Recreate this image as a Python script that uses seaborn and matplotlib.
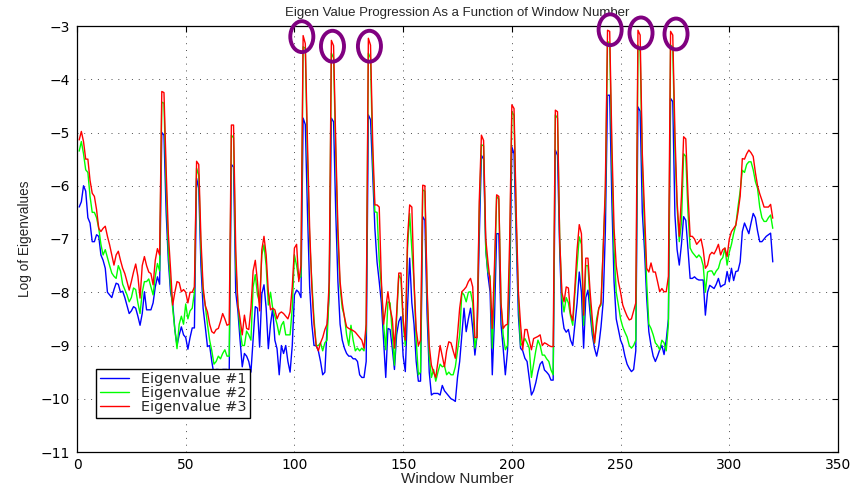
import numpy as np
import pandas as pd
import matplotlib
matplotlib.use("Agg")
import matplotlib.pyplot as plt
from matplotlib.patches import Ellipse
import seaborn as sns

# Log eigenvalues per analysis window (windows 1..320)
eig1 = [
    -6.4, -6.3, -6.0, -6.1, -6.6, -6.7, -7.05, -7.05, -6.92, -6.95,
    -7.3, -7.4, -7.55, -8.0, -8.05, -8.1, -7.95, -7.83, -7.85, -8.0,
    -7.98, -8.1, -8.25, -8.4, -8.35, -8.27, -8.3, -8.45, -8.62, -8.4,
    -7.99, -8.33, -8.33, -8.33, -8.2, -7.9, -7.71, -7.85, -5.0, -5.05,
    -6.5, -7.4, -7.99, -8.2, -8.7, -9.0, -8.8, -8.65, -8.8, -8.85,
    -9.07, -8.85, -8.67, -8.67, -5.86, -6.05, -7.5, -8.3, -8.65, -9.02,
    -9.0, -9.3, -9.55, -9.45, -9.45, -9.5, -9.45, -9.45, -9.45, -9.5,
    -5.6, -5.65, -8.0, -8.35, -8.9, -9.4, -9.15, -9.2, -9.3, -9.5,
    -8.9, -8.27, -8.3, -9.03, -8.03, -7.86, -8.3, -9.06, -8.6, -8.3,
    -8.9, -9.06, -9.55, -9.0, -9.15, -9.0, -9.3, -9.5, -9.0, -8.05,
    -7.96, -8.0, -8.1, -4.73, -4.85, -6.5, -7.9, -8.6, -9.0, -9.0,
    -9.1, -9.3, -9.55, -9.5, -8.68, -8.0, -4.73, -4.8, -6.5, -7.8,
    -8.6, -8.9, -9.05, -9.15, -9.2, -9.2, -9.25, -9.25, -9.3, -9.55,
    -9.6, -9.6, -9.3, -4.67, -4.76, -5.8, -6.8, -7.43, -7.8, -8.2,
    -8.9, -9.6, -8.68, -8.7, -9.05, -9.45, -8.8, -8.55, -8.46, -9.2,
    -9.49, -8.3, -7.36, -8.2, -8.6, -9.3, -9.67, -9.67, -6.58, -6.65,
    -8.4, -9.5, -9.93, -9.9, -9.9, -9.9, -9.93, -9.75, -9.85, -9.9,
    -9.95, -10.0, -10.02, -10.05, -9.6, -9.3, -8.8, -8.3, -8.74, -8.5,
    -8.3, -8.68, -9.18, -8.8, -7.0, -5.43, -5.5, -7.2, -7.68, -8.0,
    -9.55, -8.5, -6.9, -6.9, -8.6, -9.05, -9.55, -9.1, -8.0, -5.27,
    -5.4, -7.0, -8.43, -9.05, -9.1, -9.24, -9.3, -9.62, -9.93, -9.85,
    -9.7, -9.5, -9.35, -9.3, -9.46, -9.5, -9.55, -9.65, -9.65, -5.33,
    -5.43, -7.2, -8.4, -8.68, -8.75, -8.7, -8.9, -9.0, -8.6, -8.2,
    -7.62, -8.0, -9.05, -8.1, -7.96, -8.4, -8.8, -9.05, -9.2, -9.0,
    -8.65, -8.18, -6.86, -4.3, -4.3, -6.3, -7.8, -8.5, -8.7, -8.9,
    -9.0, -9.2, -9.35, -9.43, -9.49, -9.45, -9.1, -4.52, -4.6, -6.5,
    -7.2, -8.1, -8.74, -9.0, -9.2, -9.3, -9.2, -9.08, -9.0, -9.17,
    -8.9, -8.5, -4.36, -4.42, -6.55, -7.2, -7.49, -7.1, -6.58, -6.65,
    -7.2, -7.74, -7.74, -7.71, -7.75, -7.77, -7.77, -7.77, -8.43, -8.0,
    -7.87, -7.9, -7.93, -7.85, -7.74, -7.9, -7.87, -7.85, -7.61, -7.8,
    -7.55, -7.78, -7.61, -7.6, -7.43, -6.86, -6.7, -6.8, -6.9, -6.7,
    -6.52, -6.6, -6.85, -7.05, -7.05, -7.0, -6.95, -6.92, -6.89, -7.43,
]

eig2 = [
    -5.35, -5.17, -5.4, -5.7, -5.75, -6.2, -6.5, -6.5, -6.6, -6.8,
    -7.1, -7.3, -7.2, -7.35, -7.5, -7.64, -7.7, -7.74, -7.5, -7.6,
    -7.85, -7.95, -8.05, -8.18, -8.1, -7.92, -7.95, -8.2, -8.4, -8.0,
    -7.8, -7.8, -7.75, -7.9, -8.05, -7.7, -7.46, -7.6, -4.43, -4.45,
    -6.0, -7.2, -7.86, -8.3, -8.7, -9.06, -8.6, -8.45, -8.6, -8.22,
    -8.5, -8.35, -8.3, -8.0, -5.67, -5.8, -7.2, -8.0, -8.25, -8.6,
    -8.9, -9.1, -9.35, -9.3, -9.2, -9.25, -9.15, -9.08, -9.2, -9.2,
    -5.05, -5.1, -7.5, -8.2, -8.7, -9.0, -9.0, -8.73, -8.8, -8.9,
    -7.9, -7.67, -8.05, -8.2, -7.3, -7.11, -7.5, -8.24, -8.0, -8.3,
    -8.45, -8.6, -8.8, -8.62, -8.55, -8.8, -8.8, -8.8, -8.3, -7.3,
    -7.5, -7.75, -7.7, -3.39, -3.42, -5.5, -7.0, -7.8, -8.5, -9.0,
    -9.0, -8.95, -9.1, -8.95, -8.9, -8.0, -3.51, -3.6, -5.4, -7.0,
    -7.9, -8.3, -8.45, -8.8, -9.0, -8.62, -8.9, -9.1, -9.05, -9.1,
    -9.05, -9.1, -8.7, -3.51, -3.6, -5.5, -6.49, -6.5, -7.4, -7.9,
    -8.6, -9.08, -8.18, -8.2, -8.8, -9.37, -8.5, -7.68, -7.75, -8.6,
    -9.0, -7.2, -6.52, -7.2, -7.81, -8.9, -9.55, -9.5, -6.08, -6.1,
    -8.0, -9.2, -9.6, -9.45, -9.67, -9.5, -9.35, -9.4, -9.38, -9.55,
    -9.5, -9.55, -9.55, -9.4, -9.1, -8.8, -8.0, -8.05, -8.18, -8.0,
    -7.99, -8.2, -9.05, -8.8, -6.5, -5.23, -5.25, -7.2, -7.62, -7.7,
    -9.05, -7.8, -6.2, -6.25, -8.2, -8.8, -9.08, -9.0, -7.4, -4.61,
    -4.68, -6.7, -8.1, -9.0, -8.95, -8.87, -8.95, -9.05, -9.6, -9.35,
    -9.1, -8.9, -9.0, -9.18, -9.18, -9.25, -9.3, -9.46, -9.55, -4.67,
    -4.73, -7.0, -8.1, -8.37, -8.1, -8.2, -8.45, -8.62, -8.0, -7.5,
    -6.96, -7.1, -8.62, -7.5, -7.5, -8.2, -8.7, -8.96, -8.5, -8.3,
    -8.24, -7.17, -6.2, -3.29, -3.32, -5.5, -7.2, -8.0, -8.24, -8.5,
    -8.65, -8.75, -8.84, -9.0, -9.05, -9.0, -8.9, -3.36, -3.48, -5.6,
    -6.8, -7.8, -8.6, -8.68, -8.8, -8.95, -9.0, -9.08, -8.9, -8.95,
    -9.1, -8.6, -3.36, -3.39, -5.3, -6.4, -7.05, -6.7, -5.4, -5.45,
    -6.5, -7.17, -7.25, -7.3, -7.35, -7.3, -7.35, -7.5, -8.0, -7.62,
    -7.6, -7.6, -7.68, -7.6, -7.55, -7.4, -7.35, -7.17, -7.49, -7.25,
    -7.1, -6.9, -6.74, -6.4, -6.1, -5.71, -5.75, -5.6, -5.55, -5.55,
    -5.7, -5.92, -6.05, -6.4, -6.6, -6.67, -6.67, -6.6, -6.55, -6.8,
]

eig3 = [
    -5.14, -4.98, -5.17, -5.5, -5.5, -5.9, -6.14, -6.2, -6.45, -6.8,
    -6.86, -6.8, -6.76, -6.95, -7.11, -7.3, -7.49, -7.3, -7.23, -7.4,
    -7.55, -7.65, -7.8, -7.96, -7.8, -7.62, -7.47, -7.7, -8.11, -7.5,
    -7.33, -7.5, -7.62, -7.65, -7.86, -7.4, -7.18, -7.3, -4.23, -4.25,
    -5.7, -6.9, -7.55, -8.24, -8.0, -7.8, -7.82, -7.99, -7.95, -8.0,
    -8.2, -8.0, -8.0, -7.9, -5.54, -5.6, -7.0, -7.9, -8.25, -8.37,
    -8.6, -8.74, -8.77, -8.7, -8.68, -8.55, -8.4, -8.5, -8.62, -8.6,
    -4.86, -4.86, -7.2, -8.24, -8.5, -8.8, -8.43, -8.68, -8.7, -8.3,
    -7.6, -7.4, -7.8, -8.35, -7.2, -6.95, -7.3, -8.0, -8.33, -8.3,
    -8.33, -8.5, -8.4, -8.37, -8.4, -8.45, -8.5, -8.37, -7.9, -7.17,
    -7.1, -7.8, -7.5, -3.18, -3.33, -5.2, -6.8, -7.9, -8.6, -9.0,
    -9.1, -8.95, -8.85, -8.7, -8.6, -7.8, -3.27, -3.37, -5.2, -6.8,
    -7.8, -8.2, -8.47, -8.65, -8.68, -8.7, -8.72, -8.75, -8.8, -8.85,
    -8.9, -9.05, -8.6, -3.23, -3.36, -5.2, -6.36, -6.36, -6.4, -7.8,
    -8.6, -8.3, -7.99, -8.3, -8.5, -9.05, -8.4, -7.64, -7.64, -8.5,
    -8.9, -7.0, -6.36, -6.4, -7.8, -8.7, -9.0, -8.9, -5.99, -6.0,
    -7.9, -9.0, -9.37, -9.5, -9.6, -9.3, -9.0, -9.2, -9.4, -9.1,
    -8.93, -8.95, -9.1, -9.24, -8.8, -8.3, -7.99, -7.95, -7.9, -7.8,
    -7.74, -7.9, -8.85, -8.85, -6.3, -5.05, -5.15, -7.0, -7.43, -7.8,
    -8.68, -7.5, -6.17, -6.2, -8.2, -8.68, -8.62, -8.6, -7.0, -4.48,
    -4.55, -6.5, -7.99, -8.6, -9.08, -8.7, -8.7, -8.9, -9.08, -8.87,
    -8.85, -8.83, -8.8, -9.0, -8.95, -8.97, -9.0, -9.02, -9.02, -4.58,
    -4.61, -7.0, -8.0, -8.18, -7.9, -7.92, -8.4, -8.53, -7.9, -7.2,
    -6.73, -6.9, -8.43, -7.36, -7.36, -8.0, -8.5, -8.95, -8.6, -8.3,
    -8.2, -7.2, -6.0, -3.08, -3.1, -5.2, -6.8, -7.5, -7.8, -8.0,
    -8.24, -8.35, -8.45, -8.52, -8.5, -8.35, -8.2, -3.08, -3.17, -5.4,
    -6.5, -7.55, -7.62, -7.45, -7.62, -7.62, -7.8, -7.99, -7.93, -7.99,
    -7.99, -7.7, -3.1, -3.17, -5.0, -6.3, -6.95, -6.2, -5.08, -5.12,
    -6.17, -6.95, -6.95, -7.0, -7.1, -7.05, -7.0, -7.2, -7.55, -7.49,
    -7.3, -7.25, -7.28, -7.2, -7.1, -7.3, -7.2, -7.17, -7.33, -7.0,
    -6.86, -6.8, -6.74, -6.5, -6.2, -5.49, -5.5, -5.4, -5.33, -5.38,
    -5.45, -5.75, -6.0, -6.15, -6.27, -6.4, -6.4, -6.4, -6.35, -6.61,
]

series_names = ["Eigenvalue #1", "Eigenvalue #2", "Eigenvalue #3"]
series_colors = ["#0000ff", "#00ff00", "#ff0000"]

# Highlighted peaks (window, log eigenvalue)
peak_windows = [103.4, 117.5, 134.5, 245.2, 259.4, 275.5]
peak_levels = [-3.2, -3.38, -3.38, -3.07, -3.13, -3.15]

x_ticks = [0, 50, 100, 150, 200, 250, 300, 350]
y_ticks = [-11, -10, -9, -8, -7, -6, -5, -4, -3]

windows = np.arange(1, len(eig1) + 1)
frames = []
for name, vals in zip(series_names, [eig1, eig2, eig3]):
    frames.append(pd.DataFrame({"Window": windows, "Value": vals, "Series": name}))
df = pd.concat(frames, ignore_index=True)

sns.set_style("white")
plt.rcParams["font.family"] = ["Liberation Sans", "DejaVu Sans"]
plt.rcParams["axes.unicode_minus"] = True

fig = plt.figure(figsize=(8.64, 4.84), dpi=100)
ax = fig.add_axes([77 / 864, 1 - 452 / 484, 761 / 864, 426 / 484])

sns.lineplot(data=df, x="Window", y="Value", hue="Series",
             palette=series_colors, hue_order=series_names,
             linewidth=1.0, ax=ax, legend=False, estimator=None)

ax.set_xlim(0, 350)
ax.set_ylim(-11, -3)
ax.set_xticks(x_ticks)
ax.set_yticks(y_ticks)
ax.tick_params(direction="in", length=4, width=0.8, top=True, right=True,
               colors="black")
ax.tick_params(axis="y", pad=5)
ax.tick_params(axis="x", pad=4)
for lab in ax.get_xticklabels() + ax.get_yticklabels():
    lab.set_fontfamily("DejaVu Sans")
    lab.set_fontsize(10)
for spine in ax.spines.values():
    spine.set_visible(True)
    spine.set_color("black")
    spine.set_linewidth(0.9)

ax.grid(True, which="major", color="0.3", linestyle=(0, (1, 6)), linewidth=0.7)
ax.set_axisbelow(True)

ax.set_title("Eigen Value Progression As a Function of Window Number",
             fontsize=9.5, pad=7)
ax.set_xlabel("Window Number", fontsize=11, labelpad=0)
ax.set_ylabel("Log of Eigenvalues", fontsize=9.8, labelpad=6)

handles = [plt.Line2D([], [], color=c, linewidth=1.0) for c in series_colors]
leg = ax.legend(handles, series_names, loc="lower left",
                bbox_to_anchor=(0.025, 0.08), borderaxespad=0,
                prop={"family": "DejaVu Sans", "size": 10.4},
                frameon=True, fancybox=False, framealpha=1,
                edgecolor="black", handlelength=2.0, handletextpad=0.85,
                labelspacing=0.0, borderpad=0.25)
leg.get_frame().set_linewidth(1.0)

for px, py in zip(peak_windows, peak_levels):
    ax.add_patch(Ellipse((px, py), width=10.6, height=0.58, fill=False,
                         edgecolor="#800080", linewidth=2.8, clip_on=False,
                         zorder=10))

fig.savefig("out.png", dpi=100)
